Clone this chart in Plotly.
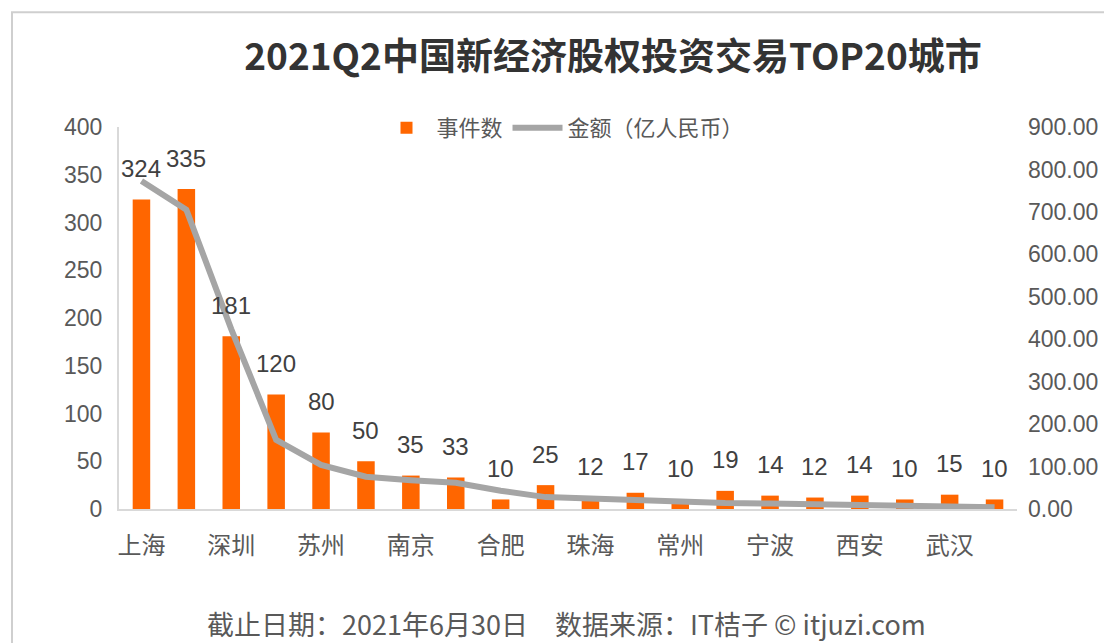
import plotly.graph_objects as go

# ---- data ----
cities = ["上海", "北京", "深圳", "杭州", "苏州", "广州", "南京", "成都", "合肥", "厦门",
          "珠海", "天津", "常州", "无锡", "宁波", "青岛", "西安", "长沙", "武汉", "重庆"]
events = [324, 335, 181, 120, 80, 50, 35, 33, 10, 25, 12, 17, 10, 19, 14, 12, 14, 10, 15, 10]
amount = [773, 705, 424, 163, 104, 76, 68, 62, 43, 28, 25, 21, 16, 14, 13, 11, 10, 8, 7.5, 4]
shown_labels = cities[::2]

title_text = "2021Q2中国新经济股权投资交易TOP20城市"
footer_text = "截止日期：2021年6月30日　数据来源：IT桔子 © itjuzi.com"

FONT = "Liberation Sans, Noto Sans CJK SC, sans-serif"
CJK = "Noto Sans CJK SC, sans-serif"
TXT = "#595959"

# page has an 8px body margin, so the figure is drawn 8px smaller
W, H = 1104, 635
L, R, T, B = 111, 95, 119, 133.5
PW, PH = W - L - R, H - T - B


def px(x):
    return (x - 8 - L) / PW


def py(y):
    return (H - B - (y - 8)) / PH


fig = go.Figure()
fig.add_trace(go.Bar(x=cities, y=events, name="事件数", marker=dict(color="#FF6600", line=dict(width=0)),
                     yaxis="y"))
fig.add_trace(go.Scatter(x=cities, y=amount, name="金额（亿人民币）", mode="lines",
                         line=dict(color="#A5A5A5", width=6), yaxis="y2"))

annotations = []
for c, v in zip(cities, events):
    annotations.append(dict(x=c, y=v, xref="x", yref="y", text=str(v), showarrow=False,
                            yanchor="middle", yshift=31,
                            font=dict(family=FONT, size=24, color="#404040")))
annotations.append(dict(x=px(566), y=py(624), xref="paper", yref="paper", text=footer_text,
                        showarrow=False, xanchor="center", yanchor="middle",
                        font=dict(family=CJK, size=27, color=TXT)))

fig.update_layout(
    width=W, height=H,
    margin=dict(l=L, r=R, t=T, b=B),
    paper_bgcolor="white", plot_bgcolor="white",
    font=dict(family=FONT, size=23, color=TXT),
    title=dict(text="<b>" + title_text + "</b>", x=(613 - 8) / W, xanchor="center",
               y=1 - (57 - 8) / H, yanchor="middle",
               font=dict(family=CJK, size=37, color="#333333")),
    bargap=0.61,
    showlegend=True,
    legend=dict(orientation="h", x=px(563), xanchor="center", y=py(128), yanchor="middle",
                font=dict(family=CJK, size=22, color=TXT), bgcolor="rgba(0,0,0,0)",
                itemwidth=50),
    xaxis=dict(type="category", tickmode="array", tickvals=shown_labels, ticktext=shown_labels,
               showline=True, linecolor="#D9D9D9", linewidth=2, ticks="", showgrid=False,
               tickfont=dict(family=CJK, size=24, color=TXT), ticklabelstandoff=14,
               range=[-0.5, 19.5]),
    yaxis=dict(range=[0, 400], dtick=50, showgrid=False, showline=True, linecolor="#D9D9D9",
               linewidth=2, ticks="", zeroline=False, tickfont=dict(family=FONT, size=23, color=TXT),
               ticklabelstandoff=10),
    yaxis2=dict(range=[0, 900], dtick=100, overlaying="y", side="right", showgrid=False,
                showline=False, ticks="", zeroline=False, tickformat=".2f",
                tickfont=dict(family=FONT, size=23, color=TXT), ticklabelstandoff=10),
    shapes=[dict(type="rect", xref="paper", yref="paper", x0=px(12), x1=1.3,
                 y0=-0.5, y1=py(12), line=dict(color="#CFCFCF", width=2),
                 fillcolor="rgba(0,0,0,0)", layer="below")],
    annotations=annotations,
)

fig.write_html("out.html")
